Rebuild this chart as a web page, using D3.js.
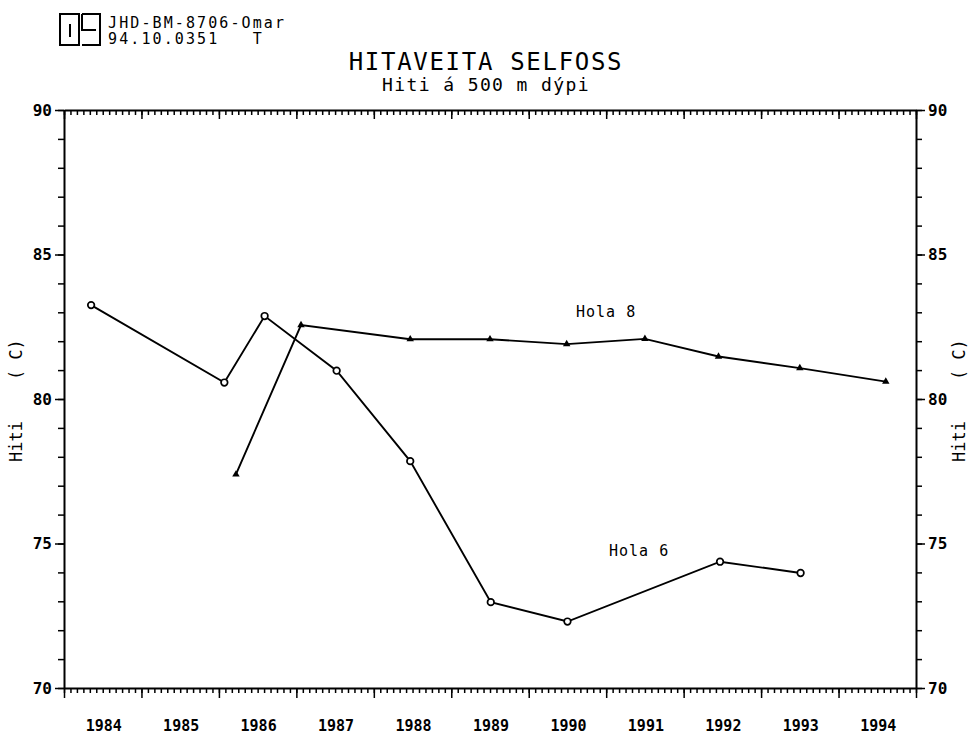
<!DOCTYPE html>
<html>
<head>
<meta charset="utf-8">
<script src="https://cdn.jsdelivr.net/npm/d3@7"></script>
<style>
  html, body { margin: 0; padding: 0; background: #fff; }
  svg { display: block; }
  text { font-family: "DejaVu Sans Mono", "Liberation Mono", monospace; fill: #000; }
</style>
</head>
<body>
<svg id="chart" width="973" height="736"></svg>
<script>
// ---- data ----
const hola6Years  = [1984.35, 1986.07, 1986.59, 1987.52, 1988.47, 1989.51, 1990.50, 1992.47, 1993.51];
const hola6Values = [83.25, 80.57, 82.87, 80.98, 77.85, 72.97, 72.30, 74.37, 73.98];
const hola8Years  = [1986.22, 1987.06, 1988.47, 1989.50, 1990.49, 1991.50, 1992.45, 1993.50, 1994.61];
const hola8Values = [77.39, 82.56, 82.07, 82.07, 81.90, 82.08, 81.47, 81.07, 80.60];
const yearLabels  = [1984, 1985, 1986, 1987, 1988, 1989, 1990, 1991, 1992, 1993, 1994];
const yTickLabels = [70, 75, 80, 85, 90];
const seriesNames = ["Hola 6", "Hola 8"];
const titleText = "HITAVEITA SELFOSS";
const subtitleText = "Hiti á 500 m dýpi";
const yAxisTitle = "Hiti    ( C)";
const stampLines = ["JHD-BM-8706-Omar", "94.10.0351   T"];

(function () {
// ---- layout ----
const svg = d3.select("#chart");
const pLeft = 64, pRight = 916, pTop = 110, pBottom = 688;
const x = d3.scaleLinear().domain([1984, 1995]).range([pLeft, pRight]);
const y = d3.scaleLinear().domain([70, 90]).range([pBottom, pTop]);

const monthTicks = d3.range(0, 11 * 12 + 1).map(i => 1984 + i / 12);
const yearTicks = d3.range(1984, 1996);
const unitTicks = d3.range(70, 91);

function styleAxis(g) {
  g.select(".domain").attr("stroke", "#000").attr("stroke-width", 2);
  g.selectAll(".tick line").attr("stroke", "#000").attr("stroke-width", 1.5);
}

// top axis: ticks hang inward (down)
svg.append("g").attr("transform", `translate(0,${pTop})`)
  .call(d3.axisBottom(x).tickValues(monthTicks).tickSize(5).tickSizeOuter(0).tickFormat(""))
  .call(styleAxis);
svg.append("g").attr("transform", `translate(0,${pTop})`)
  .call(d3.axisBottom(x).tickValues(yearTicks).tickSize(9).tickSizeOuter(0).tickFormat(""))
  .call(styleAxis).call(g => g.select(".domain").remove());

// bottom axis: ticks go outward (down)
svg.append("g").attr("transform", `translate(0,${pBottom})`)
  .call(d3.axisBottom(x).tickValues(monthTicks).tickSize(5).tickSizeOuter(0).tickFormat(""))
  .call(styleAxis);
svg.append("g").attr("transform", `translate(0,${pBottom})`)
  .call(d3.axisBottom(x).tickValues(yearTicks).tickSize(10).tickSizeOuter(0).tickFormat(""))
  .call(styleAxis).call(g => g.select(".domain").remove());

// year labels centred in each year
svg.append("g").selectAll("text").data(yearLabels).join("text")
  .attr("x", d => x(d + 0.5) + 1)
  .attr("y", 731)
  .attr("text-anchor", "middle")
  .attr("font-size", 15)
  .attr("font-weight", "bold")
  .text(d => d);

// left axis
svg.append("g").attr("transform", `translate(${pLeft},0)`)
  .call(d3.axisLeft(y).tickValues(unitTicks).tickSize(6).tickSizeOuter(0).tickFormat(""))
  .call(styleAxis);
svg.append("g").attr("transform", `translate(${pLeft},0)`)
  .call(d3.axisLeft(y).tickValues(yTickLabels).tickSize(9).tickPadding(3).tickSizeOuter(0))
  .call(styleAxis).call(g => g.select(".domain").remove())
  .call(g => g.selectAll(".tick text").attr("font-size", 16).attr("font-weight", "bold")
    .attr("font-family", "DejaVu Sans Mono").attr("fill", "#000"));

// right axis
svg.append("g").attr("transform", `translate(${pRight},0)`)
  .call(d3.axisRight(y).tickValues(unitTicks).tickSize(6).tickSizeOuter(0).tickFormat(""))
  .call(styleAxis);
svg.append("g").attr("transform", `translate(${pRight},0)`)
  .call(d3.axisRight(y).tickValues(yTickLabels).tickSize(9).tickPadding(3).tickSizeOuter(0))
  .call(styleAxis).call(g => g.select(".domain").remove())
  .call(g => g.selectAll(".tick text").attr("font-size", 16).attr("font-weight", "bold")
    .attr("font-family", "DejaVu Sans Mono").attr("fill", "#000"));

// axis titles (rotated)
[22, 965].forEach(cx => {
  svg.append("text")
    .attr("transform", `translate(${cx},462) rotate(-90)`)
    .attr("font-size", 17)
    .attr("xml:space", "preserve")
    .style("white-space", "pre")
    .text(yAxisTitle);
});

// titles
svg.append("text").attr("x", 486).attr("y", 70).attr("text-anchor", "middle")
  .attr("font-size", 24).attr("letter-spacing", 1.7).text(titleText);
svg.append("text").attr("x", 486).attr("y", 91).attr("text-anchor", "middle")
  .attr("font-size", 18).attr("letter-spacing", 1.4).text(subtitleText);

// stamp / logo
const stamp = svg.append("g").attr("fill", "none").attr("stroke", "#000").attr("stroke-width", 2);
stamp.append("rect").attr("x", 60).attr("y", 14).attr("width", 19).attr("height", 31);
stamp.append("line").attr("x1", 70).attr("x2", 70).attr("y1", 24).attr("y2", 37);
stamp.append("path").attr("d", "M82,14 H100 V45 H82 M82,14 V30 H96");
svg.append("g").selectAll("text").data(stampLines).join("text")
  .attr("x", 108).attr("y", (d, i) => 27.5 + i * 16.5)
  .attr("font-size", 15)
  .attr("letter-spacing", 2.1)
  .attr("xml:space", "preserve").style("white-space", "pre")
  .text(d => d);

// series
const line = d3.line().x(d => x(d[0])).y(d => y(d[1]));
const h6 = hola6Years.map((t, i) => [t, hola6Values[i]]);
const h8 = hola8Years.map((t, i) => [t, hola8Values[i]]);

svg.append("path").datum(h8).attr("d", line)
  .attr("fill", "none").attr("stroke", "#000").attr("stroke-width", 1.9);
svg.append("path").datum(h6).attr("d", line)
  .attr("fill", "none").attr("stroke", "#000").attr("stroke-width", 1.9);

svg.append("g").selectAll("path").data(h8).join("path")
  .attr("transform", d => `translate(${x(d[0])},${y(d[1])})`)
  .attr("d", d3.symbol(d3.symbolTriangle, 24))
  .attr("fill", "#000");

svg.append("g").selectAll("circle").data(h6).join("circle")
  .attr("cx", d => x(d[0])).attr("cy", d => y(d[1])).attr("r", 3.3)
  .attr("fill", "#fff").attr("stroke", "#000").attr("stroke-width", 1.7);

// series labels
svg.append("text").attr("x", 576).attr("y", 317).attr("font-size", 15)
  .attr("letter-spacing", 1).text(seriesNames[1]);
svg.append("text").attr("x", 609).attr("y", 556).attr("font-size", 15)
  .attr("letter-spacing", 1).text(seriesNames[0]);
})();
</script>
</body>
</html>
